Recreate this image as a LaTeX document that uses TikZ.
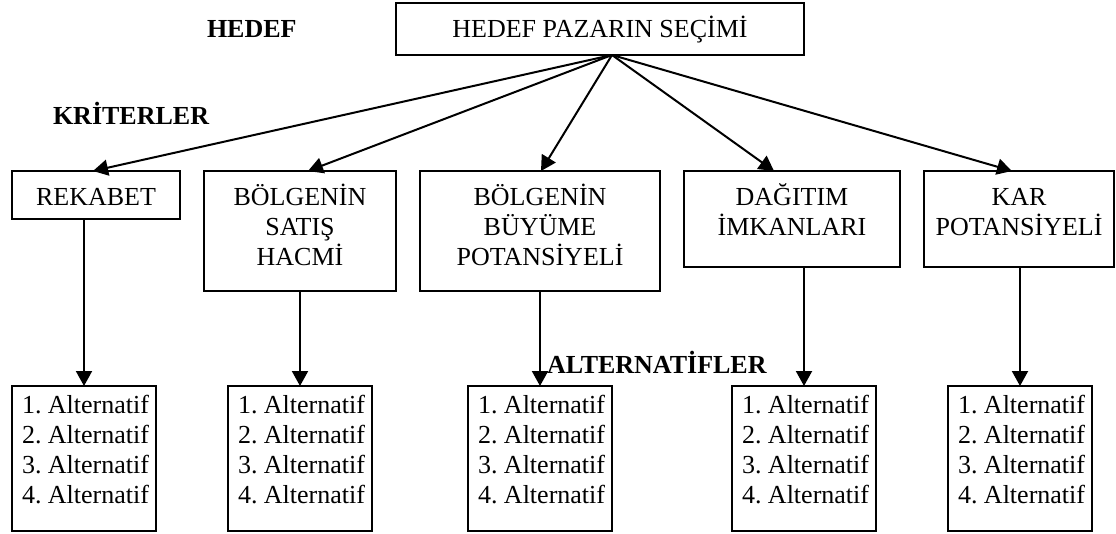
\documentclass[tikz,border=0pt]{standalone}
\usepackage{fontspec}
\setmainfont{Liberation Serif}
\usetikzlibrary{arrows.meta}
\frenchspacing
\newcommand\critbox[3]{\parbox[c][#2][t]{#1}{\centering\rule{0pt}{34pt}#3}}
\newcommand\altlist{\parbox[c][145pt][t]{144pt}{\frenchspacing\raggedright\leftskip=10pt\relax\rule{0pt}{27pt}1. Alternatif\\2. Alternatif\\3. Alternatif\\4. Alternatif}}
\tikzset{
  lbl/.style={font=\fontsize{26}{30}\selectfont\bfseries, inner sep=0pt, outer sep=0pt, anchor=base west},
  boxn/.style={draw, line width=2pt, inner sep=0pt, outer sep=0pt, anchor=north west, font=\fontsize{26}{30}\selectfont},
  arr/.style={line width=2pt, -{Triangle[length=15pt,width=16pt]}},
}
\begin{document}
\begin{tikzpicture}[x=1pt, y=-1pt]
\useasboundingbox (0,0) rectangle (1116,533);
% goal
\node[boxn, minimum width=408pt, minimum height=52pt, text height=17.5pt, text depth=0pt] (top) at (396,3) {HEDEF PAZARIN SEÇİMİ};
% labels
\node[lbl] (lhedef) at (207,37) {HEDEF};
\node[lbl] (lkrit) at (53,124) {KRİTERLER};
\node[lbl] (lalt) at (547,373) {ALTERNATİFLER};
% criteria
\node[boxn] (rek) at (12,171) {\critbox{168pt}{48pt}{REKABET}};
\node[boxn] (sat) at (204,171) {\critbox{192pt}{120pt}{BÖLGENİN\\SATIŞ\\HACMİ}};
\node[boxn] (buy) at (420,171) {\critbox{240pt}{120pt}{BÖLGENİN\\BÜYÜME\\POTANSİYELİ}};
\node[boxn] (dag) at (684,171) {\critbox{216pt}{96pt}{DAĞITIM\\İMKANLARI}};
\node[boxn] (kar) at (924,171) {\critbox{190pt}{96pt}{KAR\\POTANSİYELİ}};
% alternatives
\node[boxn] (a1) at (12,386) {\altlist};
\node[boxn] (a2) at (228,386) {\altlist};
\node[boxn] (a3) at (468,386) {\altlist};
\node[boxn] (a4) at (732,386) {\altlist};
\node[boxn] (a5) at (948,386) {\altlist};
% arrows from goal
\draw[arr] ([xshift=12pt]top.south) -- ([xshift=-3pt]rek.north);
\draw[arr] ([xshift=12pt]top.south) -- ([xshift=8pt]sat.north);
\draw[arr] ([xshift=12pt]top.south) -- ([xshift=1pt]buy.north);
\draw[arr] ([xshift=12pt]top.south) -- ([xshift=-18pt]dag.north);
\draw[arr] ([xshift=12pt]top.south) -- ([xshift=-7pt]kar.north);
% arrows to alternatives
\draw[arr] (a1.north |- rek.south) -- (a1.north);
\draw[arr] (a2.north |- sat.south) -- (a2.north);
\draw[arr] (a3.north |- buy.south) -- (a3.north);
\draw[arr] (a4.north |- dag.south) -- (a4.north);
\draw[arr] (a5.north |- kar.south) -- (a5.north);
\end{tikzpicture}
\end{document}
